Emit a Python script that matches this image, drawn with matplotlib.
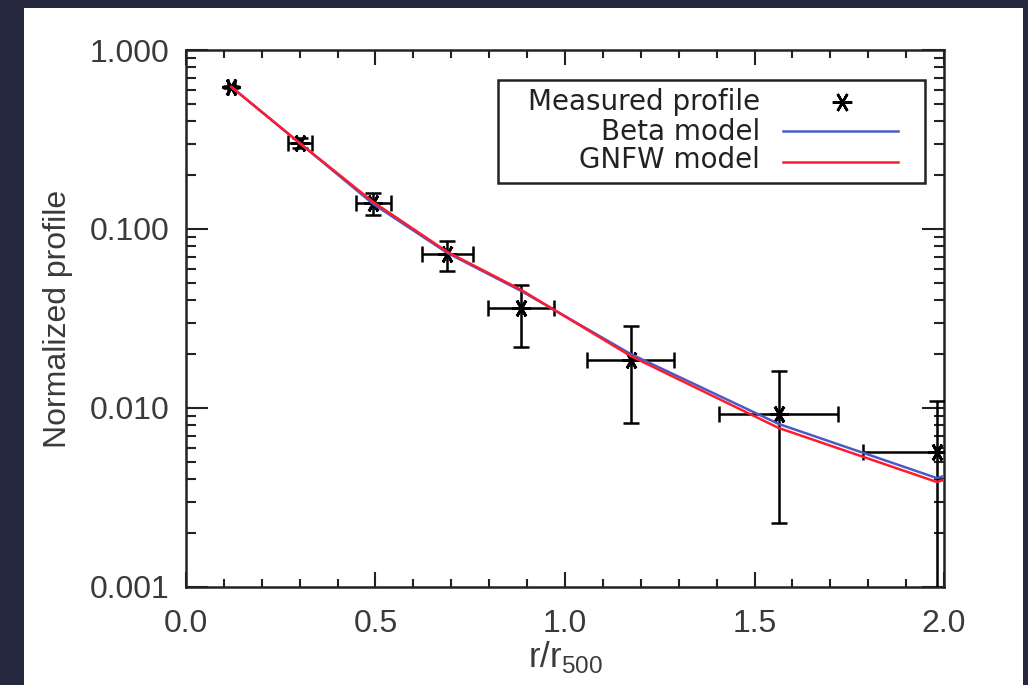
import matplotlib
matplotlib.use('Agg')
import matplotlib.pyplot as plt
from matplotlib.patches import Rectangle
from matplotlib.ticker import FixedLocator, MultipleLocator, LogLocator, NullFormatter
import numpy as np

# measured profile (r/r500, normalized value, errors)
r_meas = [0.12, 0.30, 0.494, 0.690, 0.885, 1.173, 1.564, 1.981]
prof_meas = [0.621, 0.302, 0.1397, 0.0725, 0.0362, 0.01854, 0.00926, 0.00568]
err_lo = [0.612, 0.284, 0.120, 0.0583, 0.0220, 0.00826, 0.00229, 1e-6]
err_hi = [0.630, 0.322, 0.159, 0.0855, 0.0486, 0.0288, 0.0161, 0.0110]
xerr = [0.01, 0.032, 0.046, 0.067, 0.087, 0.115, 0.157, 0.196]

# models evaluated on the same radii (+ one point beyond the plot edge)
r_model = [0.12, 0.30, 0.494, 0.690, 0.885, 1.173, 1.564, 1.981, 2.1]
beta_model = [0.621, 0.302, 0.138, 0.0734, 0.0450, 0.02004, 0.00814, 0.00406, 0.00481]
gnfw_model = [0.621, 0.302, 0.1415, 0.0744, 0.0456, 0.01953, 0.00773, 0.00386, 0.00456]

plt.rcParams['font.family'] = ['Liberation Sans', 'DejaVu Sans']
plt.rcParams['mathtext.fontset'] = 'custom'
plt.rcParams['mathtext.rm'] = 'Liberation Sans'

fig = plt.figure(figsize=(10.28, 6.85), dpi=100, facecolor='#26283f')
# white slide panel behind the plot
fig.patches.append(Rectangle((0.0233, 0.0), 0.9718, 0.9883, transform=fig.transFigure,
                             facecolor='white', edgecolor='none', zorder=-10))

ax = fig.add_axes([0.1809, 0.1431, 0.7374, 0.7839])
ax.set_facecolor('white')

yerr = [np.array(prof_meas) - np.array(err_lo), np.array(err_hi) - np.array(prof_meas)]
ax.errorbar(r_meas, prof_meas, xerr=xerr, yerr=yerr, fmt='none', ecolor='black',
            elinewidth=1.8, capsize=6, capthick=1.8, zorder=3)
ax.plot(r_meas, prof_meas, linestyle='none', marker=(6, 2, 90), markersize=13,
        markeredgewidth=2.0, color='black', zorder=4)
ax.plot(r_model, beta_model, color='#4a5cc4', lw=1.8, zorder=5)
ax.plot(r_model, gnfw_model, color='#ff1a2e', lw=1.8, zorder=6)

ax.set_yscale('log')
ax.set_xlim(0, 2.0)
ax.set_ylim(0.001, 1.0)

ax.xaxis.set_major_locator(FixedLocator([0.0, 0.5, 1.0, 1.5, 2.0]))
ax.xaxis.set_minor_locator(MultipleLocator(0.1))
ax.set_xticklabels(['0.0', '0.5', '1.0', '1.5', '2.0'])
ax.yaxis.set_major_locator(FixedLocator([0.001, 0.01, 0.1, 1.0]))
ax.set_yticklabels(['0.001', '0.010', '0.100', '1.000'])
ax.yaxis.set_minor_locator(LogLocator(base=10, subs=np.arange(2, 10)))
ax.yaxis.set_minor_formatter(NullFormatter())

ax.tick_params(which='both', direction='in', top=True, right=True, color='#222222',
               labelcolor='#3a3a3a', labelsize=23)
ax.tick_params(axis='x', which='major', length=11, width=1.5, pad=16)
ax.tick_params(axis='x', which='minor', length=6, width=1.5)
ax.tick_params(axis='y', which='major', length=16, width=1.5, pad=12)
ax.tick_params(axis='y', which='minor', length=7, width=1.5)
for s in ax.spines.values():
    s.set_linewidth(1.8)
    s.set_color('#222222')

ax.set_xlabel(r'r/r$_\mathregular{500}$', fontsize=25, color='#3a3a3a', labelpad=0)
ax.set_ylabel('Normalized profile', fontsize=23, color='#3a3a3a', labelpad=12)

# legend box (IDL style, labels right aligned, symbols on the right)
ax.add_patch(Rectangle((0.412, 0.752), 0.563, 0.192, transform=ax.transAxes,
                       facecolor='white', edgecolor='#222222', lw=1.8, zorder=7))
leg_fs = 20
ax.text(0.757, 0.903, 'Measured profile', transform=ax.transAxes, ha='right', va='center',
        fontsize=leg_fs, color='#222222', family='DejaVu Sans', zorder=8)
ax.text(0.757, 0.847, 'Beta model', transform=ax.transAxes, ha='right', va='center',
        fontsize=leg_fs, color='#222222', family='DejaVu Sans', zorder=8)
ax.text(0.757, 0.795, 'GNFW model', transform=ax.transAxes, ha='right', va='center',
        fontsize=leg_fs, color='#222222', family='DejaVu Sans', zorder=8)
ax.plot([0.865], [0.903], transform=ax.transAxes, linestyle='none', marker=(6, 2, 90),
        markersize=14, markeredgewidth=1.8, color='black', zorder=8)
ax.plot([0.788, 0.939], [0.849, 0.849], transform=ax.transAxes, color='#4a5cc4', lw=1.8, zorder=8)
ax.plot([0.788, 0.939], [0.791, 0.791], transform=ax.transAxes, color='#ff1a2e', lw=1.8, zorder=8)

fig.savefig('out.png', dpi=100, facecolor=fig.get_facecolor())
